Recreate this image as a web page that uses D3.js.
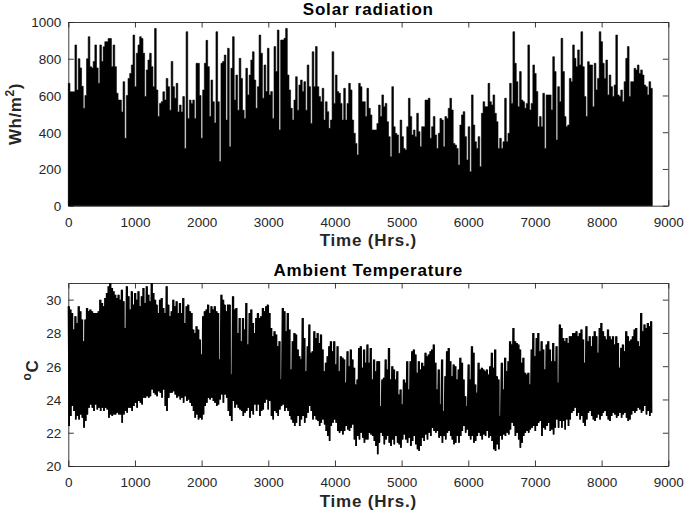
<!DOCTYPE html>
<html><head><meta charset="utf-8">
<script src="https://cdn.jsdelivr.net/npm/d3@7"></script>
<style>
body{margin:0;background:#fff}
text{font-family:"Liberation Sans",Arial,Helvetica,sans-serif}
</style>
</head><body>
<svg id="chart" width="685" height="516"></svg>
<script>
// ---------- data ----------
const hoursInYear = 8760;
const xTicks = [0,1000,2000,3000,4000,5000,6000,7000,8000,9000];
const solarTicks = [0,200,400,600,800,1000];
const tempTicks = [20,22,24,26,28,30];

// daily peak solar radiation, Wh/m^2 (one value per ~day)
const solarPeak = [
666,620,620,620,875,630,800,750,650,530, 600,800,920,757,750,785,875,750,666,875,
785,865,893,893,910,910,757,875,757,612, 575,575,510,675,367,600,693,720,766,929,
648,830,875,920,910,830,594,739,793,830, 757,648,965,630,485,557,566,620,575,693,
648,520,785,648,585,666,510,548,510,594, 312,947,475,575,557,575,475,775,775,600,
367,630,775,900,757,485,684,566,450,947,
566,240,775,785,820,466,857,321,748,920, 575,711,520,802,693,520,475,748,603,711,
793,838,684,530,648,929,830,585,766,621, 857,603,621,475,866,730,956,412,902,902,
911,965,711,630,530,466,575,702,520,657, 684,621,675,520,766,648,448,838,648,866,
648,594,566,639,466,566,512,421,466,838, 557,711,621,612,557,466,639,466,557,666,
630,466,394,339,276,666,648,566,566,485,
639,530,494,412,412,412,448,548,485,603, 539,557,457,376,267,648,430,394,385,285,
466,376,312,303,430,585,485,385,412,376, 503,403,321,430,430,575,575,585,367,430,
485,385,312,394,475,466,321,485,475,530, 585,521,339,330,312,221,439,494,512,376,
249,430,185,603,439,348,312,376,212,503, 566,539,539,666,566,548,603,503,457,312,
367,312,348,585,348,394,666,557,947,775,
675,539,730,575,566,530,557,875,521,557, 766,720,621,430,485,430,612,312,603,603,
603,521,811,730,358,648,566,911,730,485, 430,439,693,675,875,802,757,848,766,947,
757,594,485,784,766,766,539,775,630,693, 947,893,775,693,793,603,711,648,594,657,
929,603,594,630,566,675,802,866,594,675, 675,748,739,766,720,739,711,657,648,603,
675,639
];

// daily maximum ambient temperature, deg C
const tempMax = [
29.6,29.4,29.2,28.2,29.0,28.6,29.6,29.3,28.8,27.5, 28.8,29.5,29.3,29.4,29.3,29.2,29.2,29.2,29.3,30.0,
29.8,29.6,30.1,30.4,30.8,31.0,30.7,30.5,30.3,30.1, 30.3,30.0,30.6,29.9,28.3,30.8,30.2,29.4,30.5,29.7,
30.4,30.0,30.5,29.6,30.2,30.7,29.8,30.8,30.3,29.9, 31.0,30.4,30.0,29.7,29.2,30.0,30.1,29.5,29.2,30.8,
29.7,29.0,29.3,30.0,29.6,29.9,29.2,29.8,29.2,30.1, 28.6,29.6,29.7,29.3,29.2,28.2,28.0,28.4,28.2,27.6,
26.7,29.0,29.3,29.4,29.7,29.2,29.6,29.4,29.6,29.3,
29.2,26.4,30.3,30.0,29.7,29.3,29.7,29.7,25.5,30.2, 29.4,29.5,28.0,28.9,27.5,28.9,28.2,29.8,27.3,29.2,
29.4,28.6,28.0,28.9,29.2,28.9,29.0,29.5,29.3,29.6, 29.7,29.2,28.3,27.8,28.1,27.9,27.2,27.5,25.2,29.5,
29.3,28.1,29.2,28.2,25.8,27.5,28.0,27.9,27.0,26.6, 26.4,28.9,27.7,25.7,27.2,28.5,26.8,26.9,28.1,27.7,
28.0,27.4,27.9,27.0,25.7,26.2,26.6,27.2,27.5,26.9, 27.5,26.1,27.2,25.7,26.6,26.5,26.4,25.0,26.9,26.0,
27.0,26.4,25.9,24.9,25.2,27.1,27.2,25.9,27.0,26.2,
27.3,26.2,27.1,25.2,26.4,25.7,26.3,26.3,23.6,25.2, 25.3,26.4,25.8,27.1,25.2,26.0,25.8,25.2,25.7,24.3,
24.6,23.7,25.2,25.0,26.3,24.6,26.3,26.9,27.0,26.7, 25.6,26.3,25.8,26.2,26.0,26.8,26.6,26.7,26.9,27.0,
27.3,26.2,24.6,25.8,23.7,26.4,23.3,25.4,26.9,27.1, 26.3,25.4,26.1,26.0,25.2,25.8,26.5,26.2,25.2,24.2,
23.6,26.1,25.2,27.2,26.8,24.9,24.4,26.2,25.8,25.9, 25.8,25.7,25.8,25.5,26.0,26.8,25.9,27.0,25.4,25.2,
23.0,26.2,24.6,26.5,25.7,26.3,27.5,27.3,28.3,27.5,
27.4,27.3,27.0,26.2,26.5,25.6,25.5,25.6,24.9,27.0, 28.0,26.6,27.7,28.0,26.9,27.5,27.0,25.8,27.3,27.5,
27.0,26.3,27.4,26.3,27.2,25.0,28.5,28.3,27.7,27.5, 27.7,27.4,27.8,27.8,28.0,28.0,28.1,27.8,28.0,28.2,
27.6,26.2,28.4,27.5,27.8,27.2,27.8,28.1,27.8,26.8, 28.3,28.6,28.1,27.8,27.6,28.2,27.8,27.6,27.8,27.3,
27.8,27.4,25.9,27.1,27.3,26.9,28.1,27.8,27.5,27.6, 27.8,28.2,28.3,27.5,27.2,29.2,28.1,28.5,28.3,28.6,
28.4,28.7
];

// daily minimum ambient temperature, deg C
const tempMin = [
22.4,23.0,23.6,23.3,22.8,23.0,22.8,23.1,22.9,22.3, 22.7,23.1,23.5,23.7,23.5,23.3,23.7,23.4,23.5,23.3,
23.5,23.3,23.5,23.4,22.9,23.1,23.0,23.1,23.1,23.2, 23.1,23.1,22.6,23.1,23.3,23.2,23.5,23.5,23.3,23.6,
23.8,23.5,23.9,23.8,23.7,24.1,24.1,24.2,24.1,24.2, 24.6,24.4,24.3,24.2,24.5,24.4,24.1,24.6,23.6,23.3,
24.1,24.4,24.4,24.5,24.3,24.1,24.2,24.0,24.1,23.8, 24.2,23.9,24.0,23.8,23.6,23.3,22.9,23.1,22.8,22.9,
22.8,23.1,23.6,23.8,24.1,24.0,24.1,23.9,23.8,23.6,
23.7,24.0,24.3,23.8,24.3,24.1,23.3,23.0,22.7,23.9, 23.5,23.7,23.5,23.4,23.3,23.0,23.2,23.3,23.5,22.9,
23.3,23.1,23.7,23.3,23.7,23.0,23.3,23.4,23.8,24.0, 23.4,23.9,23.0,22.8,23.3,23.2,23.0,23.4,23.6,23.7,
23.3,23.5,23.3,23.0,22.8,22.6,22.4,22.6,23.0,22.4, 22.8,23.0,22.6,22.9,23.2,23.6,23.3,22.8,23.0,22.8,
22.7,22.4,22.6,22.8,22.5,22.1,21.8,21.5,22.4,22.6, 22.8,22.6,22.1,22.0,22.1,21.9,22.1,22.4,22.2,22.1,
22.3,22.5,21.6,21.2,21.8,21.6,22.0,21.7,21.4,21.6,
21.6,22.0,21.9,21.8,21.5,21.2,20.7,21.4,22.0,21.8, 21.3,21.6,21.8,21.4,21.2,21.6,21.3,21.8,21.4,21.3,
21.1,21.6,21.9,21.6,21.4,21.7,21.2,21.5,21.8,21.3, 21.0,20.9,21.2,21.7,21.5,21.9,21.6,22.0,21.8,22.3,
22.1,22.0,22.1,21.7,21.8,21.4,21.8,21.6,22.0,22.1, 21.8,21.6,21.3,21.4,21.8,21.4,21.8,22.1,22.4,22.0,
22.2,21.8,21.6,21.8,21.4,21.5,21.8,22.0,21.8,21.6, 21.9,21.8,22.1,21.7,21.8,21.5,21.0,20.9,21.3,21.0,
21.8,21.6,21.9,21.8,22.0,21.9,22.2,22.6,22.4,21.8,
22.0,21.6,21.1,21.4,21.8,22.0,22.1,22.0,22.2,22.3, 22.4,22.1,22.4,22.6,22.7,21.8,22.3,22.2,22.4,22.6,
22.1,22.2,21.9,22.3,22.8,22.3,22.7,22.3,22.7,22.2, 22.8,22.4,22.8,23.2,23.3,23.5,23.0,23.2,22.8,23.0,
22.6,22.4,22.8,23.2,23.3,23.0,22.8,22.7,22.9,23.1, 22.8,23.0,23.2,23.3,23.0,22.8,22.7,23.0,23.2,23.1,
22.9,23.0,23.2,22.9,23.1,23.2,22.9,22.7,22.8,23.1, 23.3,23.2,23.3,23.5,23.4,23.2,23.3,23.6,23.1,23.3,
23.0,23.2
];

// ---------- drawing ----------
const svg = d3.select("#chart");
const axisColor = "#262626";
const left = 68.3, right = 668.3;

const x = d3.scaleLinear().domain([0, 9000]).range([left, right]);
const ySolar = d3.scaleLinear().domain([0, 1000]).range([205.7, 22]);
const yTemp = d3.scaleLinear().domain([20, 31]).range([466, 283]);

function drawFrame(y, ticks, cfg) {
  const g = svg.append("g");
  const [y0, y1] = y.range();
  const gb = g.append("g").attr("transform", `translate(0,${y0})`)
    .call(d3.axisBottom(x).tickValues(xTicks).tickSizeInner(-5.5).tickSizeOuter(0).tickFormat(d3.format("d")));
  gb.selectAll("text").attr("y", 21).attr("dy", 0);
  g.append("g").attr("transform", `translate(0,${y1})`)
    .call(d3.axisTop(x).tickValues(xTicks).tickSizeInner(-5.5).tickSizeOuter(0).tickFormat(""));
  const gl = g.append("g").attr("transform", `translate(${left},0)`)
    .call(d3.axisLeft(y).tickValues(ticks).tickSizeInner(-5.5).tickSizeOuter(0).tickFormat(d3.format("d")));
  gl.selectAll("text").attr("x", -7).attr("dy", "0.36em");
  g.append("g").attr("transform", `translate(${right},0)`)
    .call(d3.axisRight(y).tickValues(ticks).tickSizeInner(-5.5).tickSizeOuter(0).tickFormat(""));
  g.selectAll("path.domain").attr("stroke", axisColor).attr("stroke-width", 0.9);
  g.selectAll(".tick line").attr("stroke", axisColor).attr("stroke-width", 0.9);
  g.selectAll(".tick text").attr("fill", axisColor).style("font-size", "13.5px")
    .style("font-family", '"Liberation Sans",Arial,sans-serif');

  svg.append("text").attr("x", (left + right) / 2).attr("y", cfg.titleY)
    .attr("text-anchor", "middle").attr("font-weight", "bold").attr("font-size", 17)
    .attr("letter-spacing", 0.8).attr("fill", "#000").text(cfg.title);
  svg.append("text").attr("x", (left + right) / 2).attr("y", y0 + 40.5)
    .attr("text-anchor", "middle").attr("font-weight", "bold").attr("font-size", 17)
    .attr("letter-spacing", 0.8).attr("fill", axisColor).text("Time (Hrs.)");
  const yl = svg.append("text")
    .attr("transform", `translate(${cfg.ylabX},${cfg.ylabY}) rotate(-90)`)
    .attr("text-anchor", "middle").attr("font-weight", "bold").attr("font-size", 17)
    .attr("letter-spacing", 0.6).attr("fill", axisColor);
  cfg.ylab(yl);
}

// Solar radiation panel
drawFrame(ySolar, solarTicks, {
  title: "Solar radiation", titleY: 15, ylabX: 21, ylabY: 114,
  ylab: t => {
    t.append("tspan").text("Wh/m");
    t.append("tspan").attr("font-size", 12).attr("dy", -7).text("2");
    t.append("tspan").attr("dy", 7).text(")");
  }
});

const stepS = hoursInYear / solarPeak.length;
// one solid stepped silhouette: each day rises from 0 to its peak
const solarPts = solarPeak.map((v, i) => [i * stepS, v]);
solarPts.push([hoursInYear, solarPeak[solarPeak.length - 1]]);
svg.append("path").datum(solarPts)
  .attr("d", d3.area().curve(d3.curveStepAfter)
    .x(d => x(d[0])).y0(ySolar(0)).y1(d => ySolar(d[1])))
  .attr("fill", "#000").attr("stroke", "#000").attr("stroke-width", 0.6);

// Ambient temperature panel
drawFrame(yTemp, tempTicks, {
  title: "Ambient Temperature", titleY: 276, ylabX: 38, ylabY: 370,
  ylab: t => {
    t.append("tspan").attr("font-size", 12).attr("dy", -7).text("o");
    t.append("tspan").attr("dy", 7).text("C");
  }
});

const stepT = hoursInYear / tempMax.length;
const band = tempMax.map((v, i) => ({t: i * stepT, hi: v, lo: tempMin[i]}));
band.push({t: hoursInYear, hi: tempMax[tempMax.length - 1], lo: tempMin[tempMin.length - 1]});
// solid core of the daily swing
svg.append("path").datum(band)
  .attr("d", d3.area().curve(d3.curveStepAfter)
    .x(d => x(d.t)).y0(d => yTemp(d.lo)).y1(d => yTemp(d.hi)))
  .attr("fill", "#000");
// daily up/down trace
const pts = [];
tempMax.forEach((v, i) => {
  pts.push([i * stepT, v]);
  pts.push([i * stepT + stepT / 2, tempMin[i]]);
});
svg.append("path").datum(pts)
  .attr("d", d3.line().x(d => x(d[0])).y(d => yTemp(d[1])))
  .attr("fill", "none").attr("stroke", "#000").attr("stroke-width", 1.3)
  .attr("stroke-linejoin", "miter").attr("stroke-miterlimit", 2);
</script>
</body></html>
